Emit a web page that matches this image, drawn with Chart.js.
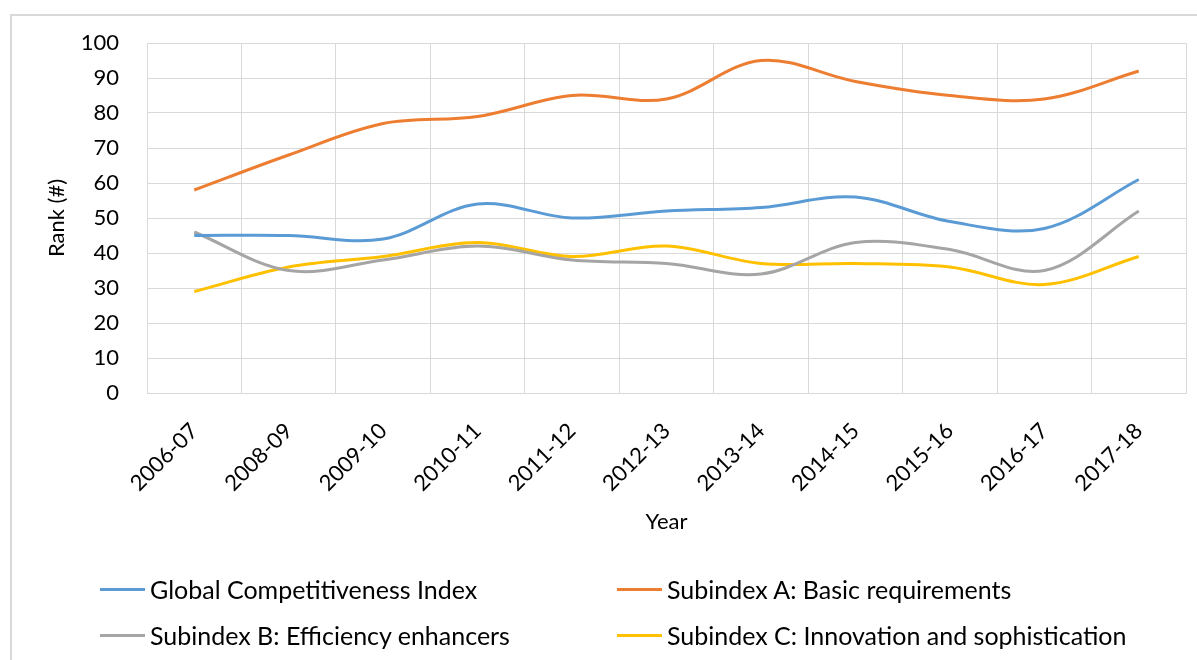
<!DOCTYPE html>
<html>
<head>
<meta charset="utf-8">
<script src="https://cdn.jsdelivr.net/npm/chart.js@4.4.1/dist/chart.umd.min.js"></script>
<style>
  html, body { margin: 0; padding: 0; background: #fff; }
  #wrap { position: relative; width: 1197px; height: 660px; overflow: hidden; }
  #c { position: absolute; left: 0; top: 0; }
  #legend { position: absolute; left: 0; top: 0; width: 1197px; height: 660px; pointer-events: none;
            font-family: Lato, "Open Sans", sans-serif; font-size: 25px; color: #000; }
  .item { position: absolute; display: flex; align-items: center; height: 30px; white-space: nowrap; }
  .swatch { width: 45px; height: 3px; margin-right: 5px; }
</style>
</head>
<body>
<div id="wrap">
  <canvas id="c" width="1197" height="660"></canvas>
  <div id="legend"></div>
</div>
<script>
// Survey editions
const years = ['2006-07', '2008-09', '2009-10', '2010-11', '2011-12', '2012-13',
               '2013-14', '2014-15', '2015-16', '2016-17', '2017-18'];

// Rank per edition
const globalIndex   = [45, 45, 44, 54, 50, 52, 53, 56, 49, 47, 61];
const basicReq      = [58, 68, 77, 79, 85, 84, 95, 89, 85, 84, 92];
const efficiency    = [46, 35, 38, 42, 38, 37, 34, 43, 41, 35, 52];
const innovation    = [29, 36, 39, 43, 39, 42, 37, 37, 36, 31, 39];

const seriesNames = ['Global Competitiveness Index', 'Subindex A: Basic requirements',
                     'Subindex B: Efficiency enhancers', 'Subindex C: Innovation and sophistication'];
const seriesColors = ['#5B9BD5', '#ED7D31', '#A5A5A5', '#FFC000'];
const seriesValues = [globalIndex, basicReq, efficiency, innovation];

// Y axis range
const yMin = 0, yMax = 100, yStep = 10;

const FONT = 'Lato, "Open Sans", sans-serif';
const GRID = '#d9d9d9';

// Light frame around the chart (left and top edges)
const framePlugin = {
  id: 'frame',
  beforeDraw(chart) {
    const ctx = chart.ctx;
    ctx.save();
    ctx.fillStyle = '#fff';
    ctx.fillRect(0, 0, chart.width, chart.height);
    ctx.strokeStyle = GRID;
    ctx.lineWidth = 2;
    ctx.beginPath();
    ctx.moveTo(11, chart.height);
    ctx.lineTo(11, 15);
    ctx.lineTo(chart.width, 15);
    ctx.stroke();
    ctx.restore();
  }
};

const chart = new Chart(document.getElementById('c'), {
  type: 'line',
  data: {
    labels: years,
    datasets: seriesValues.map((vals, i) => ({
      label: seriesNames[i],
      data: vals,
      borderColor: seriesColors[i],
      backgroundColor: seriesColors[i],
      borderWidth: 3,
      pointRadius: 0,
      tension: 0.35,
      fill: false
    }))
  },
  options: {
    responsive: false,
    animation: false,
    devicePixelRatio: 1,
    layout: { padding: { top: 43, right: 11, bottom: 117, left: 0 } },
    plugins: { legend: { display: false }, tooltip: { enabled: false } },
    scales: {
      x: {
        offset: true,
        grid: { color: GRID, lineWidth: 1, offset: true, drawTicks: false },
        border: { color: GRID, width: 1 },
        ticks: { minRotation: 45, maxRotation: 45, autoSkip: false, padding: 25,
                 color: '#000', font: { family: FONT, size: 22 } },
        title: { display: true, text: 'Year', color: '#000',
                 font: { family: FONT, size: 22 }, padding: { top: 0, bottom: 8 } },
        afterFit(scale) { scale.height = 150; }
      },
      y: {
        min: yMin, max: yMax,
        grid: { color: GRID, lineWidth: 1, drawTicks: false },
        border: { color: GRID, width: 1 },
        ticks: { stepSize: yStep, padding: 28, color: '#000', font: { family: FONT, size: 22 } },
        title: { display: true, text: 'Rank (#)', color: '#000',
                 font: { family: FONT, size: 22 }, padding: { top: 44, bottom: 0 } },
        afterFit(scale) { scale.width = 147; }
      }
    }
  },
  plugins: [framePlugin]
});

// Two-column legend built from the chart's datasets
const legendSlots = [
  { left: 100, top: 574 }, { left: 617, top: 574 },
  { left: 100, top: 620 }, { left: 617, top: 620 }
];
const legendOrder = [0, 1, 2, 3];
const legendEl = document.getElementById('legend');
legendOrder.forEach((dsIndex, slot) => {
  const ds = chart.data.datasets[dsIndex];
  const item = document.createElement('div');
  item.className = 'item';
  item.style.left = legendSlots[slot].left + 'px';
  item.style.top = legendSlots[slot].top + 'px';
  const sw = document.createElement('span');
  sw.className = 'swatch';
  sw.style.background = ds.borderColor;
  const tx = document.createElement('span');
  tx.textContent = ds.label;
  item.appendChild(sw);
  item.appendChild(tx);
  legendEl.appendChild(item);
});
</script>
</body>
</html>
